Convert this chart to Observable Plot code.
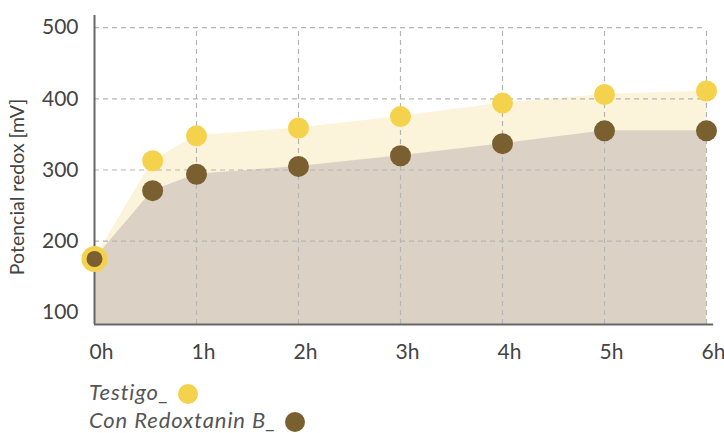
<!DOCTYPE html>
<html>
<head>
<meta charset="utf-8">
<script src="https://cdn.jsdelivr.net/npm/d3@7"></script>
<script src="https://cdn.jsdelivr.net/npm/@observablehq/plot@0.6"></script>
<style>
  body { margin: 0; background: #fff; font-family: Lato, "Open Sans", sans-serif; }
  #chart { width: 724px; }
  #chart svg { overflow: visible; }
  .legend { margin-left: 89px; margin-top: 10px; font-style: italic; font-size: 22px; letter-spacing: 0.9px; color: #555; line-height: 28px; }
  .legend .row { display: flex; align-items: center; height: 28px; }
  .legend .sw { display: inline-block; width: 20px; height: 20px; border-radius: 50%; margin-left: 8px; position: relative; top: 2px; }
</style>
</head>
<body>
<div id="chart"></div>
<script>
const hours = [0, 0.57, 1, 2, 3, 4, 5, 6];
const testigo = [175, 313, 348, 359, 375, 394, 406, 411];
const redoxtanin = [175, 271, 294, 305, 320, 337, 355, 355];
const xTicks = [0, 1, 2, 3, 4, 5, 6];
const yTicks = [100, 200, 300, 400, 500];
const seriesNames = ["Testigo_", "Con Redoxtanin B_"];
const colors = ["#F5D24C", "#7A6031"];
const areaColors = ["#FBF3DA", "#DBD2C5"];

const dataT = hours.map((h, i) => ({h, v: testigo[i], i}));
const dataR = hours.map((h, i) => ({h, v: redoxtanin[i], i}));

const plot = Plot.plot({
  width: 724,
  height: 368,
  marginTop: 15,
  marginBottom: 44,
  marginLeft: 94,
  marginRight: 18,
  style: {fontFamily: "Lato, 'Open Sans', sans-serif", background: "#fff", overflow: "visible"},
  x: {domain: [0, 6]},
  y: {domain: [83, 517]},
  r: {type: "identity"},
  marks: [
    Plot.areaY(dataT, {x: "h", y1: 83, y2: "v", fill: areaColors[0]}),
    Plot.areaY(dataR, {x: "h", y1: 83, y2: "v", fill: areaColors[1]}),
    Plot.ruleY(yTicks.filter(d => d > 100), {x1: 0, x2: 6, stroke: "#b5b5b5", strokeWidth: 1.2, strokeDasharray: "5,4"}),
    Plot.ruleX(xTicks.filter(d => d > 0), {y1: 83, y2: 500, stroke: "#b5b5b5", strokeWidth: 1.2, strokeDasharray: "5,4"}),
    Plot.ruleX([0], {y1: 83, y2: 517, stroke: "#666", strokeWidth: 2}),
    Plot.ruleY([83], {x1: 0, x2: 6.07, stroke: "#666", strokeWidth: 2}),
    Plot.axisY(yTicks, {tickSize: 0, tickPadding: 16, fontSize: 21, fill: "#444", label: null}),
    Plot.axisX(xTicks, {tickSize: 0, tickPadding: 20, fontSize: 21, fill: "#444", textAnchor: "start", dx: -5, tickFormat: d => d + "h", label: null}),
    Plot.dot(dataT, {x: "h", y: "v", r: d => d.i === 0 ? 13 : 10.5, fill: colors[0]}),
    Plot.dot(dataR, {x: "h", y: "v", r: d => d.i === 0 ? 8 : 10.5, fill: colors[1]})
  ]
});

const svg = d3.select(plot);
svg.append("text")
  .attr("transform", "translate(24,187) rotate(-90)")
  .attr("text-anchor", "middle")
  .attr("font-size", 19.5)
  .attr("fill", "#444")
  .text("Potencial redox [mV]");

document.getElementById("chart").appendChild(plot);

const legend = document.createElement("div");
legend.className = "legend";
seriesNames.forEach((name, i) => {
  const row = document.createElement("div");
  row.className = "row";
  const t = document.createElement("span");
  t.textContent = name;
  const sw = document.createElement("span");
  sw.className = "sw";
  sw.style.background = colors[i];
  row.appendChild(t);
  row.appendChild(sw);
  legend.appendChild(row);
});
document.getElementById("chart").appendChild(legend);
</script>
</body>
</html>
